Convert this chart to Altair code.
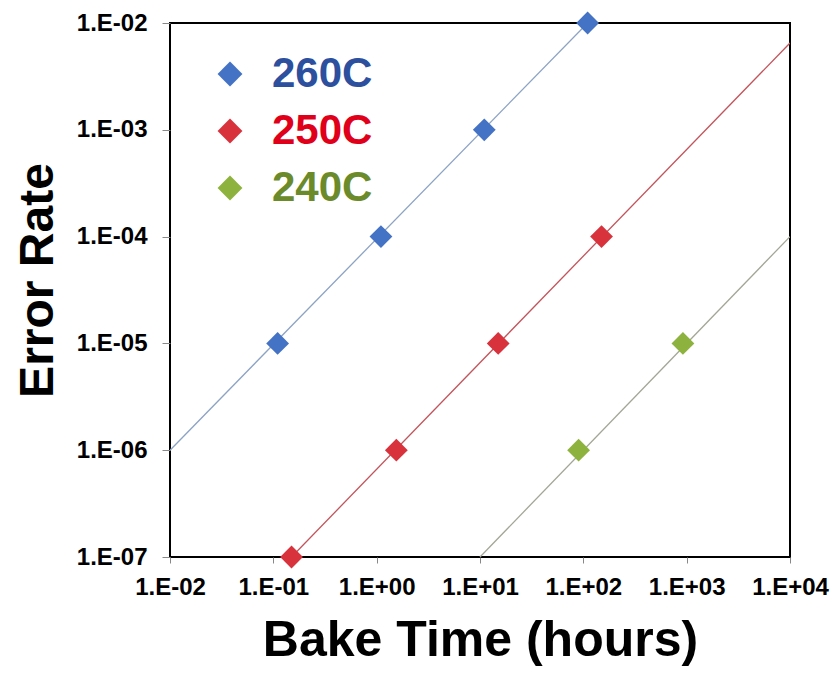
import altair as alt
import pandas as pd

# ---- data ----
series = ["260C", "250C", "240C"]
marker_colors = ["#4472C4", "#D8323C", "#8DB33E"]
label_colors = ["#2C4F9E", "#E0001A", "#6B8A2A"]
line_colors = ["#8CA3C4", "#C2545A", "#A3A696"]

blue_x = [0.11, 1.1, 11, 110]
blue_y = [1e-5, 1e-4, 1e-3, 1e-2]
red_x = [0.15, 1.55, 15, 150]
red_y = [1e-7, 1e-6, 1e-5, 1e-4]
green_x = [90, 920]
green_y = [1e-6, 1e-5]

# trend-line end points
blue_line_x = [0.01, 110]
blue_line_y = [1e-6, 1e-2]
red_line_x = [0.15, 1e4]
red_line_y = [1e-7, 6.5e-3]
green_line_x = [10, 1e4]
green_line_y = [1e-7, 1e-4]

x_ticks = [1e-2, 1e-1, 1e0, 1e1, 1e2, 1e3, 1e4]
x_tick_labels = ["1.E-02", "1.E-01", "1.E+00", "1.E+01", "1.E+02", "1.E+03", "1.E+04"]
y_ticks = [1e-7, 1e-6, 1e-5, 1e-4, 1e-3, 1e-2]
y_tick_labels = ["1.E-07", "1.E-06", "1.E-05", "1.E-04", "1.E-03", "1.E-02"]

# ---- tables ----
pts = pd.DataFrame(
    [{"t": x, "e": y, "s": "260C"} for x, y in zip(blue_x, blue_y)]
    + [{"t": x, "e": y, "s": "250C"} for x, y in zip(red_x, red_y)]
    + [{"t": x, "e": y, "s": "240C"} for x, y in zip(green_x, green_y)]
)
lines = pd.DataFrame(
    [{"t": x, "e": y, "s": "260C"} for x, y in zip(blue_line_x, blue_line_y)]
    + [{"t": x, "e": y, "s": "250C"} for x, y in zip(red_line_x, red_line_y)]
    + [{"t": x, "e": y, "s": "240C"} for x, y in zip(green_line_x, green_line_y)]
)

def label_expr(labels, offset):
    arr = "[" + ",".join("'%s'" % l for l in labels) + "]"
    return "%s[round(log(datum.value)/LN10)+%d]" % (arr, offset)

color_expr = "datum.label == '%s' ? '%s' : datum.label == '%s' ? '%s' : '%s'" % (
    series[0], label_colors[0], series[1], label_colors[1], label_colors[2])

x_scale = alt.Scale(type="log", domain=[1e-2, 1e4], nice=False)
y_scale = alt.Scale(type="log", domain=[1e-7, 1e-2], nice=False)

x_axis = alt.Axis(
    values=x_ticks, labelExpr=label_expr(x_tick_labels, 2),
    title="Bake Time (hours)", grid=False, domain=False,
    labelFontSize=24, labelFontWeight="bold", labelColor="black",
    labelPadding=12, tickSize=6, tickColor="#888888", labelOverlap=False, labelFlush=False,
    titleFontSize=50, titleFontWeight="bold", titleColor="black",
    titleX=310, titleY=98, titleBaseline="alphabetic", titleAlign="center",
)
y_axis = alt.Axis(
    values=y_ticks, labelExpr=label_expr(y_tick_labels, 7),
    title="Error Rate", grid=False, domain=False,
    labelFontSize=24, labelFontWeight="bold", labelColor="black",
    labelPadding=15, tickSize=8, tickColor="#888888", labelOverlap=False, labelFlush=False,
    labelBaseline="middle",
    titleFontSize=48, titleFontWeight="bold", titleColor="black",
    titleX=-118, titleY=257, titleAngle=270, titleBaseline="alphabetic", titleAlign="center",
)

line_layer = alt.Chart(lines).mark_line(strokeWidth=1.3, clip=True).encode(
    x=alt.X("t:Q", scale=x_scale, axis=x_axis),
    y=alt.Y("e:Q", scale=y_scale, axis=y_axis),
    color=alt.Color("s:N", scale=alt.Scale(domain=series, range=line_colors), legend=None),
    detail="s:N",
)

point_layer = alt.Chart(pts).mark_point(shape="diamond", filled=True, opacity=1, size=520).encode(
    x=alt.X("t:Q", scale=x_scale, axis=x_axis),
    y=alt.Y("e:Q", scale=y_scale, axis=y_axis),
    fill=alt.Fill(
        "s:N",
        scale=alt.Scale(domain=series, range=marker_colors),
        legend=alt.Legend(
            title=None, orient="none", legendX=39, legendY=30,
            symbolType="diamond", symbolSize=620, symbolStrokeWidth=0,
            labelFontSize=42, labelFont="Liberation Sans", labelFontWeight="bold",
            labelColor=alt.ExprRef(color_expr),
            labelOffset=21, rowPadding=15,
        ),
    ),
)

chart = alt.layer(line_layer, point_layer).resolve_scale(color="independent").properties(
    width=620, height=534,
    autosize=alt.AutoSizeParams(type="none"),
    padding={"left": 162, "top": 15, "right": 41, "bottom": 110},
).configure(font="Liberation Sans").configure_view(
    stroke="black", strokeWidth=2
)

chart.save("out.html", embed_options={"renderer": "svg", "actions": False})
